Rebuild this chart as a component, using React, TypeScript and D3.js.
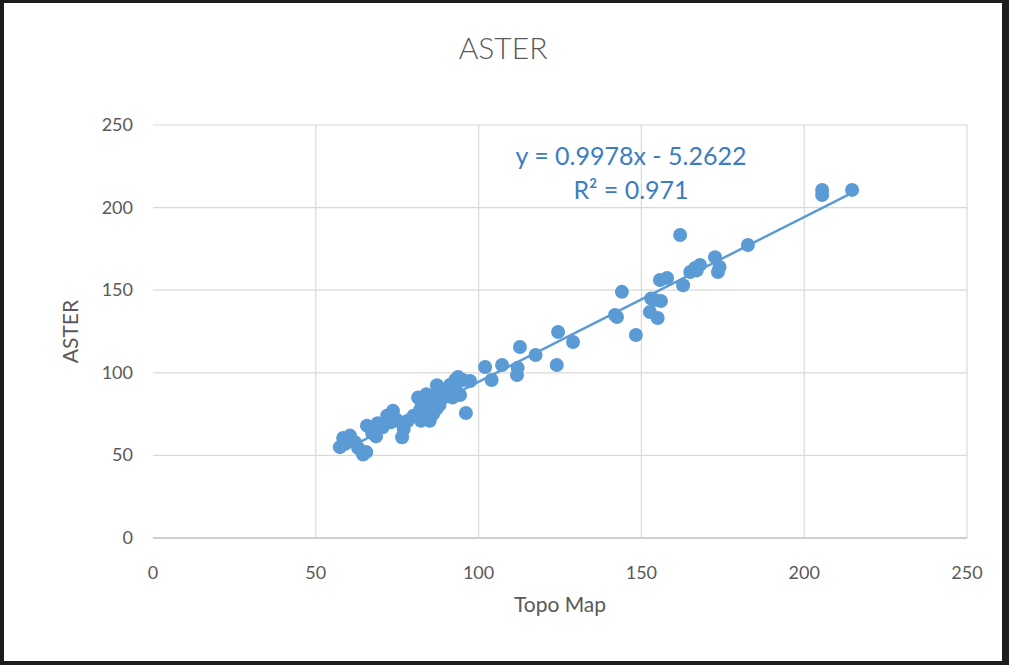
import React from "react";
import * as d3 from "d3";

const title = "ASTER";
const xLabel = "Topo Map";
const yLabel = "ASTER";
const xTicks = [0, 50, 100, 150, 200, 250];
const yTicks = [0, 50, 100, 150, 200, 250];
const slope = 0.9978;
const intercept = -5.2622;
const equationText = "y = 0.9978x - 5.2622";
const r2Text = "R² = 0.971";

const topoMap = [
  57.4, 58.4, 59, 60.5, 62, 63, 64.5, 65.5, 65.7, 67.3, 68.5, 69, 70.5, 71.9, 73, 73.7, 74.5, 75.2, 76.5, 77, 78.3,
  80, 81.4, 82, 82.3, 83, 83.5, 84, 84.5, 85, 85.7, 86, 86.6, 87.2, 88, 88.5, 89, 89.7, 90.5, 91.2, 92, 92.8, 93, 93.7, 94.3, 95.2, 96.1, 97.4, 82.5, 87, 84,
  102, 104, 107.2, 111.8, 112, 112.7, 117.5, 124, 124.4, 129,
  141.9, 142.5, 144, 148.3, 152.6, 153, 154.2, 155, 155.7, 156, 157.9, 161.9, 162.8, 165, 166.5, 168, 167, 172.6, 173.5, 174, 182.7, 205.5, 205.5, 214.7,
];
const aster = [
  55, 60.5, 57, 62, 58, 54.5, 50.5, 52, 68, 63.5, 61.5, 69.5, 67, 74, 70, 77, 72, 71, 61, 66, 71,
  74, 85, 77.5, 71, 80, 74.5, 87, 83.5, 71, 78.7, 75, 86.6, 92.5, 80.5, 84, 88, 89.6, 86, 92.6, 85, 95.6, 89.6, 97.5, 86.6, 95.6, 75.7, 95, 82, 78, 76,
  103.5, 95.6, 104.7, 98.7, 103, 115.6, 110.8, 104.7, 124.7, 118.6,
  135, 133.8, 149, 122.9, 136.8, 145, 144, 133.2, 156.2, 143.5, 157.4, 183.4, 153, 161, 163.4, 165.3, 162, 170, 161, 164, 177.4, 210.7, 207.6, 210.7,
];

const W = 1009;
const H = 665;
const plot = { left: 153, right: 967, top: 125, bottom: 538 };
const font = "Lato, 'Open Sans', sans-serif";
const textGrey = "#595959";
const dotBlue = "#5B9BD5";

export default function App() {
  const x = d3.scaleLinear().domain([0, 250]).range([plot.left, plot.right]);
  const y = d3.scaleLinear().domain([0, 250]).range([plot.bottom, plot.top]);
  const pts = topoMap.map((v, i) => [v, aster[i]] as [number, number]);
  const xMin = d3.min(topoMap) as number;
  const xMax = d3.max(topoMap) as number;
  const line = d3
    .line<number>()
    .x((d) => x(d))
    .y((d) => y(slope * d + intercept));

  return (
    <svg
      width={W}
      height={H}
      style={{ position: "absolute", left: 0, top: 0, display: "block" }}
    >
      <rect x={0} y={0} width={W} height={H} fill="#1c1c1c" />
      <rect x={4} y={3} width={998} height={658} fill="#ffffff" />
      <text
        x={503}
        y={59}
        textAnchor="middle"
        fontFamily={font}
        fontSize={30}
        fontWeight={300}
        fill={textGrey}
      >
        {title}
      </text>
      {yTicks.map((t) => (
        <line
          key={"gy" + t}
          x1={plot.left}
          x2={plot.right}
          y1={y(t)}
          y2={y(t)}
          stroke={t === 0 ? "#bfbfbf" : "#d9d9d9"}
          strokeWidth={t === 0 ? 1.5 : 1.2}
        />
      ))}
      {xTicks
        .filter((t) => t > 0)
        .map((t) => (
          <line
            key={"gx" + t}
            x1={x(t)}
            x2={x(t)}
            y1={plot.top}
            y2={plot.bottom}
            stroke="#d9d9d9"
            strokeWidth={1.2}
          />
        ))}
      {yTicks.map((t) => (
        <text
          key={"ly" + t}
          x={133}
          y={y(t) + 6}
          textAnchor="end"
          fontFamily={font}
          fontSize={18}
          fill={textGrey}
        >
          {t}
        </text>
      ))}
      {xTicks.map((t) => (
        <text
          key={"lx" + t}
          x={x(t)}
          y={579}
          textAnchor="middle"
          fontFamily={font}
          fontSize={18}
          fill={textGrey}
        >
          {t}
        </text>
      ))}
      <text
        x={(plot.left + plot.right) / 2}
        y={612}
        textAnchor="middle"
        fontFamily={font}
        fontSize={21}
        fill={textGrey}
      >
        {xLabel}
      </text>
      <text
        transform={`translate(78,${(plot.top + plot.bottom) / 2}) rotate(-90)`}
        textAnchor="middle"
        fontFamily={font}
        fontSize={21}
        fill={textGrey}
      >
        {yLabel}
      </text>
      {pts.map((p, i) => (
        <circle key={i} cx={x(p[0])} cy={y(p[1])} r={7} fill={dotBlue} />
      ))}
      <path
        d={line([xMin, xMax]) || ""}
        fill="none"
        stroke={dotBlue}
        strokeWidth={2.5}
      />
      <text
        x={631}
        y={165}
        textAnchor="middle"
        fontFamily={font}
        fontSize={25}
        fill="#3B7DBF"
      >
        {equationText}
      </text>
      <text
        x={631}
        y={199}
        textAnchor="middle"
        fontFamily={font}
        fontSize={25}
        fill="#3B7DBF"
      >
        {r2Text}
      </text>
    </svg>
  );
}
